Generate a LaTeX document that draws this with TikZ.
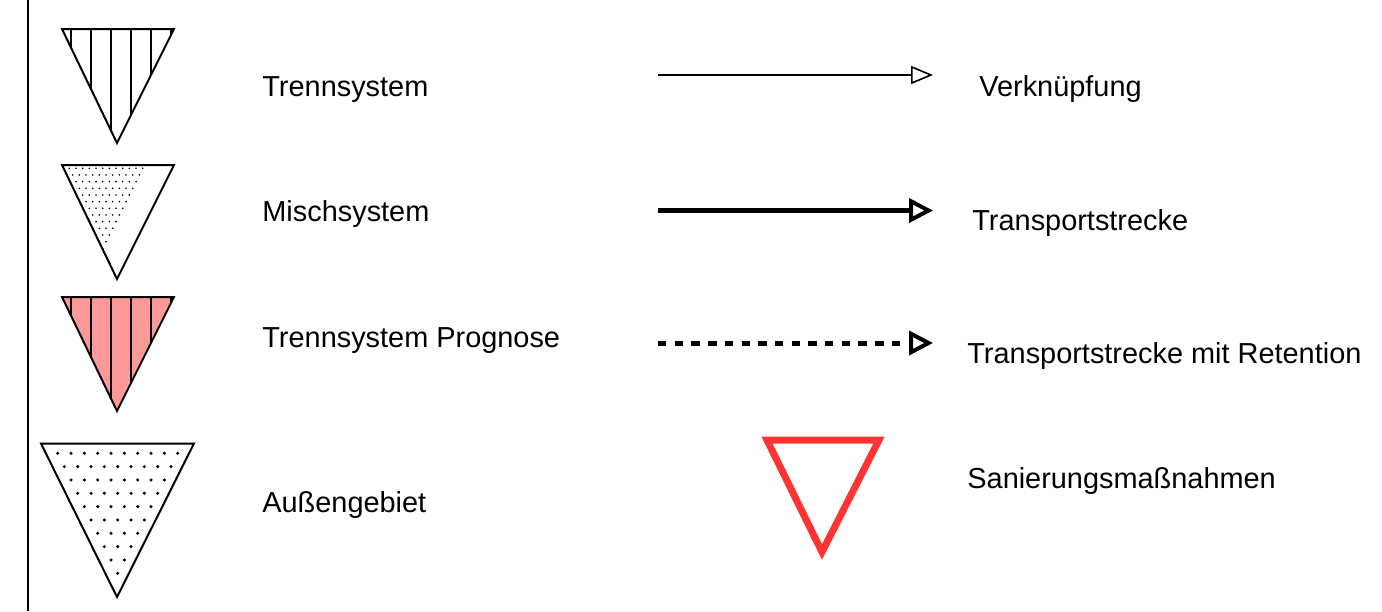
\documentclass[tikz,border=0pt]{standalone}
\usepackage{fontspec}
\setmainfont{Liberation Sans}
\usepackage{tikz}
\usetikzlibrary{arrows.meta}
\definecolor{progcolor}{HTML}{FF9999}
\definecolor{sancolor}{HTML}{FF3333}
\tikzset{legend text/.style={anchor=base west,inner sep=0pt,font=\fontsize{14.45}{17}\selectfont},
	tri line/.style={draw=black,line width=1pt,line join=miter},
	hatch line/.style={draw=black,line width=1pt},
	thin arrow/.style={line width=0.9pt,-{Triangle[open,fill=white,length=11pt,width=9pt,line width=0.8pt]}},
	thick arrow/.style={line width=2.5pt,-{Triangle[open,fill=white,length=12pt,width=12pt,line width=2pt]}},
	dash arrow/.style={thick arrow,dash pattern=on 4.2pt off 4.15pt},
}

\begin{document}
\begin{tikzpicture}[x=0.5pt,y=-0.5pt]
	\useasboundingbox (0,0) rectangle (1382,611);
	\fill[white] (0,0) rectangle (1382,611);
	
	%% left border
	\coordinate (border top) at (27.5,0);
	\coordinate (border bottom) at (27.5,611);
	\draw[line width=1pt] (border top) -- (border bottom);
	
	%% Trennsystem
	\begin{scope}
	\clip (62,29) -- (174,29) -- (117,143) -- cycle;
	\foreach \x in {70.7,90.7,...,171} {
		\draw[hatch line] (\x,29) -- (\x,143);
	}
	\end{scope}
	\draw[tri line] (62,29) -- (174,29) -- (117,143) -- cycle;
	
	%% Mischsystem
	\begin{scope}
	\clip (62,165) -- (174,165) -- (117,279) -- cycle;
	\foreach \i in {0,...,15} {
		\foreach \j in {0,...,\numexpr15-\i\relax} {
			\fill (117.7-75+3.333*\i+6.667*\j-0.0,168.3+6.667*\i) circle (0.45pt);
		}
	}
	\end{scope}
	\draw[tri line] (62,165) -- (174,165) -- (117,279) -- cycle;
	
	%% Trennsystem Prognose
	\fill[progcolor] (62,297) -- (174,297) -- (117,411) -- cycle;
	\begin{scope}
	\clip (62,297) -- (174,297) -- (117,411) -- cycle;
	\foreach \x in {70.7,90.7,...,171} {
		\draw[hatch line] (\x,297) -- (\x,411);
	}
	\end{scope}
	\draw[tri line] (62,297) -- (174,297) -- (117,411) -- cycle;
	
	%% Aussengebiet
	\draw[tri line] (41,443.5) -- (194,443.5) -- (117,597) -- cycle;
	\foreach \i in {0,...,9} {
		\foreach \j in {0,...,\numexpr9-\i\relax} {
			\fill (57.7+6.667*\i+13.333*\j,453.3+13.333*\i) circle (0.85pt);
		}
	}
	
	%% left labels
	\node[legend text] (trenn) at (262,96) {Trennsystem};
	\node[legend text] (misch) at (262,221) {Mischsystem};
	\node[legend text] (prognose) at (262,347) {Trennsystem Prognose};
	\node[legend text] (aussen) at (262,512) {Außengebiet};
	
	%% arrows
	\coordinate (a1) at (658,75);
	\coordinate (b1) at (933,75);
	\coordinate (a2) at (658,210.5);
	\coordinate (b2) at (933,210.5);
	\coordinate (a3) at (658,343);
	\coordinate (b3) at (933,343);
	\draw[thin arrow] (a1) -- (b1);
	\draw[thick arrow] (a2) -- (b2);
	\draw[dash arrow] (a3) -- (b3);
	
	%% Sanierung
	\draw[draw=sancolor,line width=3.5pt,line join=miter] (767,440) -- (879,440) -- (822,552) -- cycle;
	
	%% right labels
	\node[legend text] (verk) at (979,96) {Verknüpfung};
	\node[legend text] (trans) at (972,230) {Transportstrecke};
	\node[legend text] (ret) at (967,363) {Transportstrecke mit Retention};
	\node[legend text] (san) at (967,488) {Sanierungsmaßnahmen};
\end{tikzpicture}
\end{document}
